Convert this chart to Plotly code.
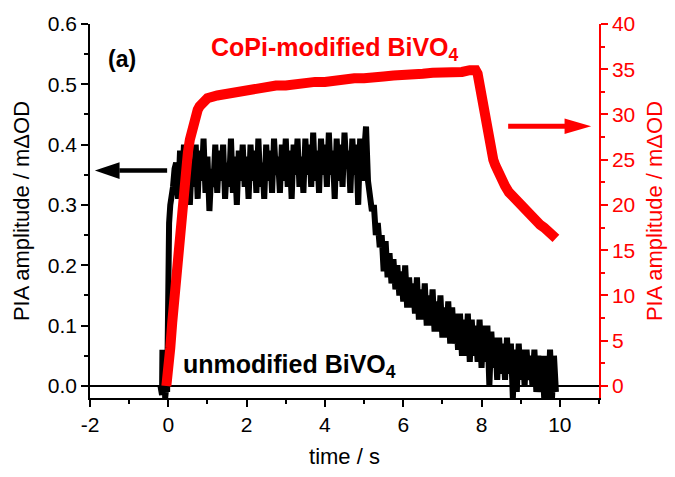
import plotly.graph_objects as go

# ---------------- data ----------------
# unmodified BiVO4 (left axis, PIA amplitude / mΔOD)
black_t = [-0.20, -0.16, -0.15, -0.12, -0.10, -0.08, -0.05, -0.03, -0.02, 0.00, 0.02, 0.05, 0.08, 0.12, 0.16,
           0.20, 0.25, 0.30, 0.35, 0.40, 0.45, 0.50, 0.55, 0.60, 0.65, 0.70, 0.75, 0.80, 0.85, 0.90, 0.95,
           1.00, 1.05, 1.10, 1.15, 1.20, 1.25, 1.30, 1.35, 1.40, 1.45, 1.50, 1.55, 1.60, 1.65, 1.70, 1.75,
           1.80, 1.85, 1.90, 1.95, 2.00, 2.05, 2.10, 2.15, 2.20, 2.25, 2.30, 2.35, 2.40, 2.45, 2.50, 2.55,
           2.60, 2.65, 2.70, 2.75, 2.80, 2.85, 2.90, 2.95, 3.00, 3.05, 3.10, 3.15, 3.20, 3.25, 3.30, 3.35,
           3.40, 3.45, 3.50, 3.55, 3.60, 3.65, 3.70, 3.75, 3.80, 3.85, 3.90, 3.95, 4.00, 4.05, 4.10, 4.15,
           4.20, 4.25, 4.30, 4.35, 4.40, 4.45, 4.50, 4.55, 4.60, 4.65, 4.70, 4.75, 4.80, 4.85, 4.90, 4.95,
           5.00, 5.05, 5.10, 5.15, 5.20, 5.25, 5.30, 5.35, 5.40, 5.45, 5.50, 5.55, 5.60, 5.65, 5.70, 5.75,
           5.80, 5.85, 5.90, 5.95, 6.00, 6.05, 6.10, 6.15, 6.20, 6.25, 6.30, 6.35, 6.40, 6.45, 6.50, 6.55,
           6.60, 6.65, 6.70, 6.75, 6.80, 6.85, 6.90, 6.95, 7.00, 7.05, 7.10, 7.15, 7.20, 7.25, 7.30, 7.35,
           7.40, 7.45, 7.50, 7.55, 7.60, 7.65, 7.70, 7.75, 7.80, 7.85, 7.90, 7.95, 8.00, 8.05, 8.10, 8.15,
           8.20, 8.25, 8.30, 8.35, 8.40, 8.45, 8.50, 8.55, 8.60, 8.65, 8.70, 8.75, 8.80, 8.85, 8.90, 8.95,
           9.00, 9.05, 9.10, 9.15, 9.20, 9.25, 9.30, 9.35, 9.40, 9.45, 9.50, 9.55, 9.60, 9.65, 9.70, 9.75,
           9.80, 9.85, 9.90]
black_v = [0.00, -0.015, 0.06, -0.01, 0.055, -0.02, 0.00, -0.01, 0.10, 0.25, 0.27, 0.30, 0.31, 0.33, 0.36,
           0.37, 0.31, 0.39, 0.33, 0.40, 0.32, 0.38, 0.30, 0.37, 0.33, 0.40, 0.31, 0.39, 0.34, 0.41, 0.32,
           0.38, 0.29, 0.36, 0.33, 0.40, 0.32, 0.39, 0.34, 0.40, 0.31, 0.37, 0.33, 0.41, 0.32, 0.38, 0.30,
           0.39, 0.34, 0.40, 0.33, 0.38, 0.31, 0.40, 0.34, 0.39, 0.32, 0.41, 0.33, 0.37, 0.31, 0.40, 0.34,
           0.39, 0.32, 0.41, 0.35, 0.38, 0.32, 0.40, 0.34, 0.41, 0.33, 0.39, 0.31, 0.40, 0.35, 0.41, 0.33,
           0.38, 0.32, 0.41, 0.35, 0.40, 0.33, 0.42, 0.34, 0.39, 0.32, 0.41, 0.35, 0.40, 0.33, 0.42, 0.35,
           0.39, 0.31, 0.41, 0.34, 0.40, 0.33, 0.42, 0.36, 0.39, 0.32, 0.41, 0.35, 0.40, 0.30, 0.41, 0.34,
           0.40, 0.43, 0.34, 0.31, 0.29, 0.30, 0.25, 0.27, 0.23, 0.25, 0.19, 0.24, 0.18, 0.22, 0.17, 0.21,
           0.16, 0.20, 0.15, 0.19, 0.14, 0.20, 0.13, 0.18, 0.13, 0.17, 0.12, 0.18, 0.11, 0.16, 0.11, 0.17,
           0.10, 0.15, 0.10, 0.16, 0.09, 0.14, 0.09, 0.15, 0.08, 0.13, 0.08, 0.14, 0.07, 0.13, 0.07, 0.12,
           0.06, 0.12, 0.05, 0.11, 0.05, 0.12, 0.04, 0.11, 0.05, 0.10, 0.04, 0.11, 0.03, 0.10, 0.04, 0.10,
           0.00, 0.09, 0.03, 0.08, 0.01, 0.08, 0.02, 0.07, 0.01, 0.08, 0.02, 0.07, -0.02, 0.06, -0.01, 0.07,
           0.01, 0.06, 0.00, 0.06, 0.01, 0.05, 0.00, 0.06, -0.01, 0.05, -0.01, 0.05, -0.02, 0.05, -0.02, 0.06,
           -0.02, 0.05, -0.01]

# CoPi-modified BiVO4 (right axis, PIA amplitude / mΔOD)
red_t = [-0.05, 0.00, 0.05, 0.10, 0.15, 0.20, 0.25, 0.30, 0.35, 0.40, 0.45, 0.50, 0.55, 0.60, 0.65, 0.70,
         0.75, 0.80, 0.90, 1.00, 1.25, 1.50, 1.75, 2.00, 2.25, 2.50, 2.75, 3.00, 3.25, 3.50, 3.75, 4.00,
         4.25, 4.50, 4.75, 5.00, 5.25, 5.50, 5.75, 6.00, 6.25, 6.50, 6.75, 7.00, 7.25, 7.50, 7.70, 7.85,
         7.90, 7.95, 8.00, 8.05, 8.10, 8.15, 8.20, 8.25, 8.30, 8.35, 8.40, 8.50, 8.60, 8.70, 8.80, 8.90,
         9.00, 9.10, 9.20, 9.30, 9.40, 9.50, 9.60, 9.70, 9.80, 9.90]
red_v = [0.0, 1.5, 4.2, 7.0, 9.8, 12.5, 15.0, 17.5, 19.8, 22.0, 24.0, 25.8, 27.2, 28.4, 29.3, 30.0,
         30.5, 30.9, 31.4, 31.8, 32.1, 32.3, 32.6, 32.7, 32.9, 33.0, 33.2, 33.2, 33.4, 33.4, 33.6, 33.6,
         33.8, 33.8, 34.0, 34.0, 34.2, 34.2, 34.3, 34.3, 34.5, 34.5, 34.6, 34.6, 34.7, 34.7, 34.9, 34.9,
         34.5, 33.2, 31.8, 30.3, 28.9, 27.6, 26.6, 25.7, 25.0, 24.4, 23.8, 22.9, 22.1, 21.4, 20.9, 20.4,
         20.0, 19.5, 19.0, 18.6, 18.2, 17.8, 17.5, 17.1, 16.8, 16.3]

x_tickvals = [-2, 0, 2, 4, 6, 8, 10]
x_ticktext = ["-2", "0", "2", "4", "6", "8", "10"]
x_range = [-2, 11]
left_range = [-0.02, 0.6]
right_range = [-1.3333, 40]

FONT = "Arial, Liberation Sans, sans-serif"

fig = go.Figure()
fig.add_trace(go.Scatter(x=black_t, y=black_v, mode="lines",
                         line=dict(color="black", width=6), yaxis="y", showlegend=False))
fig.add_trace(go.Scatter(x=red_t, y=red_v, mode="lines",
                         line=dict(color="#ff0000", width=10), yaxis="y2", showlegend=False))

axis_common = dict(showgrid=False, showline=True, linewidth=1.5, ticks="outside",
                   ticklen=7, tickwidth=1.5)

fig.update_layout(
    width=675, height=477,
    margin=dict(l=90, r=71, t=22, b=74),
    paper_bgcolor="white", plot_bgcolor="white",
    font=dict(family=FONT, size=21, color="black"),
    xaxis=dict(range=x_range, tickmode="array", tickvals=x_tickvals, ticktext=x_ticktext,
               linecolor="black", tickcolor="black",
               minor=dict(dtick=1, tick0=0, ticklen=4, tickcolor="black", tickwidth=1.5),
               title=dict(text="time / s", font=dict(size=22), standoff=14),
               zeroline=False, **axis_common),
    xaxis2=dict(range=x_range, overlaying="x", side="top", anchor="y", showticklabels=False,
                showgrid=False, showline=True, linecolor="black", linewidth=1.5,
                ticks="inside", ticklen=6, tickwidth=1.5, tickcolor="black", dtick=2, tick0=0,
                minor=dict(dtick=1, ticklen=6, tickcolor="black", tickwidth=1.5, ticks="inside"),
                zeroline=False),
    yaxis=dict(range=left_range, dtick=0.1, tick0=0, tickformat=".1f", linecolor="black",
               tickcolor="black",
               minor=dict(dtick=0.05, ticklen=4, tickcolor="black", tickwidth=1.5),
               title=dict(text="PIA amplitude / mΔOD", font=dict(size=22), standoff=12),
               zeroline=True, zerolinecolor="black", zerolinewidth=1.5, **axis_common),
    yaxis2=dict(range=right_range, overlaying="y", side="right", dtick=5, tick0=0,
                linecolor="#ff0000", tickcolor="#ff0000", tickfont=dict(color="#ff0000"),
                minor=dict(dtick=2.5, ticklen=4, tickcolor="#ff0000", tickwidth=1.5),
                title=dict(text="PIA amplitude / mΔOD", font=dict(size=22, color="#ff0000"), standoff=12),
                zeroline=False, **axis_common),
)

# text labels
fig.add_annotation(x=0.031, y=0.906, xref="paper", yref="paper", text="<b>(a)</b>",
                   showarrow=False, xanchor="left", yanchor="middle", font=dict(size=23, color="black"))
fig.add_annotation(x=0.233, y=0.934, xref="paper", yref="paper", text="<b>CoPi-modified BiVO<sub>4</sub></b>",
                   showarrow=False, xanchor="left", yanchor="middle", font=dict(size=25, color="#ff0000"))
fig.add_annotation(x=0.179, y=0.085, xref="paper", yref="paper", text="<b>unmodified BiVO<sub>4</sub></b>",
                   showarrow=False, xanchor="left", yanchor="middle", font=dict(size=25, color="black"))

# arrows (decorations)
fig.add_shape(type="line", xref="x", yref="y", x0=-0.03, y0=0.357, x1=-1.25, y1=0.357,
              line=dict(color="black", width=4.5))
fig.add_shape(type="path", xref="x", yref="y", path="M -1.876,0.357 L -1.245,0.371 L -1.245,0.343 Z",
              fillcolor="black", line=dict(color="black", width=0))
fig.add_shape(type="line", xref="x", yref="y2", x0=8.68, y0=28.7, x1=10.15, y1=28.7,
              line=dict(color="#ff0000", width=5))
fig.add_shape(type="path", xref="x", yref="y2", path="M 10.80,28.7 L 10.12,29.55 L 10.12,27.85 Z",
              fillcolor="#ff0000", line=dict(color="#ff0000", width=0))

fig.write_html("out.html")
